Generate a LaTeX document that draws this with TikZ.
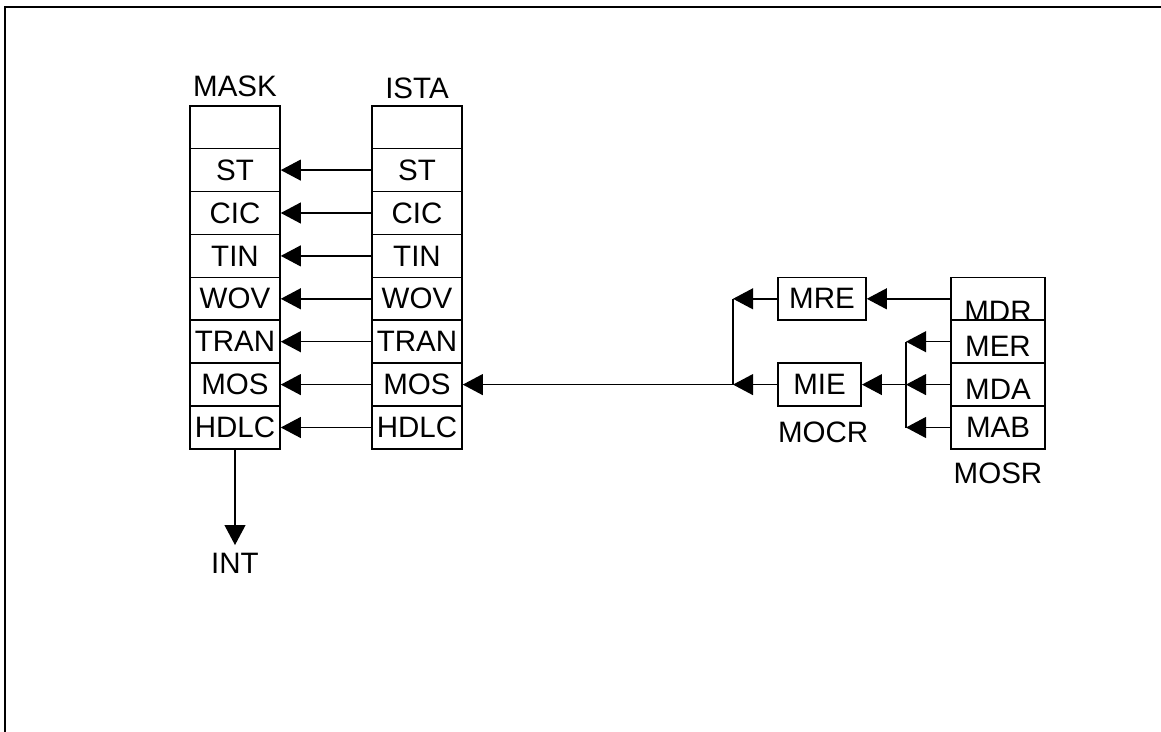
\documentclass[tikz,border=0pt]{standalone}
\usepackage{fontspec}
\setmainfont{Liberation Sans}
\usetikzlibrary{arrows.meta,positioning}

\begin{document}
\begin{tikzpicture}[node distance=1.0725cm, line width=1.1pt,
    font=\fontsize{21}{25}\selectfont,
    cell/.style={draw, rectangle, minimum width=2.25cm, minimum height=1.0725cm, inner sep=1pt},
    reg/.style={draw, rectangle, minimum height=1.0725cm, inner sep=1pt},
    arr/.style={-{Triangle[length=0.5cm, width=0.52cm]}}]

    \useasboundingbox (0,0) rectangle (29.025,-18.3);
    \draw (0.13,-18.3) -- (0.13,-0.175) -- (29.025,-0.175);

    % MASK register
    \node [cell] (mask0) at (5.875,-3.18) {};
    \node [cell] (mask1) [below of=mask0] {ST};
    \node [cell] (mask2) [below of=mask1] {CIC};
    \node [cell] (mask3) [below of=mask2] {TIN};
    \node [cell] (mask4) [below of=mask3] {WOV};
    \node [cell] (mask5) [below of=mask4] {TRAN};
    \node [cell] (mask6) [below of=mask5] {MOS};
    \node [cell] (mask7) [below of=mask6] {HDLC};
    \node (masklabel) [above of=mask0, node distance=1.01cm] {MASK};

    % ISTA register
    \node [cell] (ista0) [right of=mask0, node distance=4.55cm] {};
    \node [cell] (ista1) [below of=ista0] {ST};
    \node [cell] (ista2) [below of=ista1] {CIC};
    \node [cell] (ista3) [below of=ista2] {TIN};
    \node [cell] (ista4) [below of=ista3] {WOV};
    \node [cell] (ista5) [below of=ista4] {TRAN};
    \node [cell] (ista6) [below of=ista5] {MOS};
    \node [cell] (ista7) [below of=ista6] {HDLC};
    \node (istalabel) [above of=ista0, node distance=0.96cm] {ISTA};

    \node (int) [below of=mask7, node distance=3.4cm] {INT};

    % MOSR register
    \node [cell, minimum width=2.35cm] (mosr0) [right of=mask4, node distance=19.075cm] {\raisebox{-0.325cm}[\height][\depth]{MDR}};
    \node [cell, minimum width=2.35cm] (mosr1) [below of=mosr0] {\raisebox{-0.125cm}[\height][\depth]{MER}};
    \node [cell, minimum width=2.35cm] (mosr2) [below of=mosr1] {\raisebox{-0.125cm}[\height][\depth]{MDA}};
    \node [cell, minimum width=2.35cm] (mosr3) [below of=mosr2] {MAB};
    \node (mosrlabel) [below of=mosr3, node distance=1.15cm] {MOSR};

    % MOCR register
    \node [reg, minimum width=2.2cm] (mre) [left of=mosr0, node distance=4.4cm] {MRE};
    \node [reg, minimum width=2.08cm] (mie) [left of=mosr2, node distance=4.46cm] {MIE};
    \node (mocrlabel) [below of=mie, node distance=1.185cm, xshift=0.09cm] {MOCR};

    \coordinate [left of=mre, node distance=2.225cm] (jre);
    \coordinate (jmie) at (jre |- mie);
    \coordinate [left of=mosr1, node distance=2.3cm] (jmer);
    \coordinate (jmda) at (jmer |- mosr2);
    \coordinate (jmab) at (jmer |- mosr3);

    \draw[arr] (ista1.west) -- (mask1.east);
    \draw[arr] (ista2.west) -- (mask2.east);
    \draw[arr] (ista3.west) -- (mask3.east);
    \draw[arr] (ista4.west) -- (mask4.east);
    \draw[arr] (ista5.west) -- (mask5.east);
    \draw[arr] (ista6.west) -- (mask6.east);
    \draw[arr] (ista7.west) -- (mask7.east);

    \draw[arr, shorten >= 2pt] (mask7.south) -- (int.north);

    \draw[arr] (mosr0.west) -- (mre.east);
    \draw[arr] (mosr1.west) -- (jmer);
    \draw[arr] (mosr2.west) -- (jmda);
    \draw[arr] (mosr3.west) -- (jmab);
    \draw (jmer) -- (jmab);
    \draw[arr] (jmda) -- (mie.east);

    \draw[arr] (mre.west) -- (jre);
    \draw[arr] (mie.west) -- (jmie);
    \draw (jre) -- (jmie);
    \draw[arr] (jmie) -- (ista6.east);

\end{tikzpicture}
\end{document}
